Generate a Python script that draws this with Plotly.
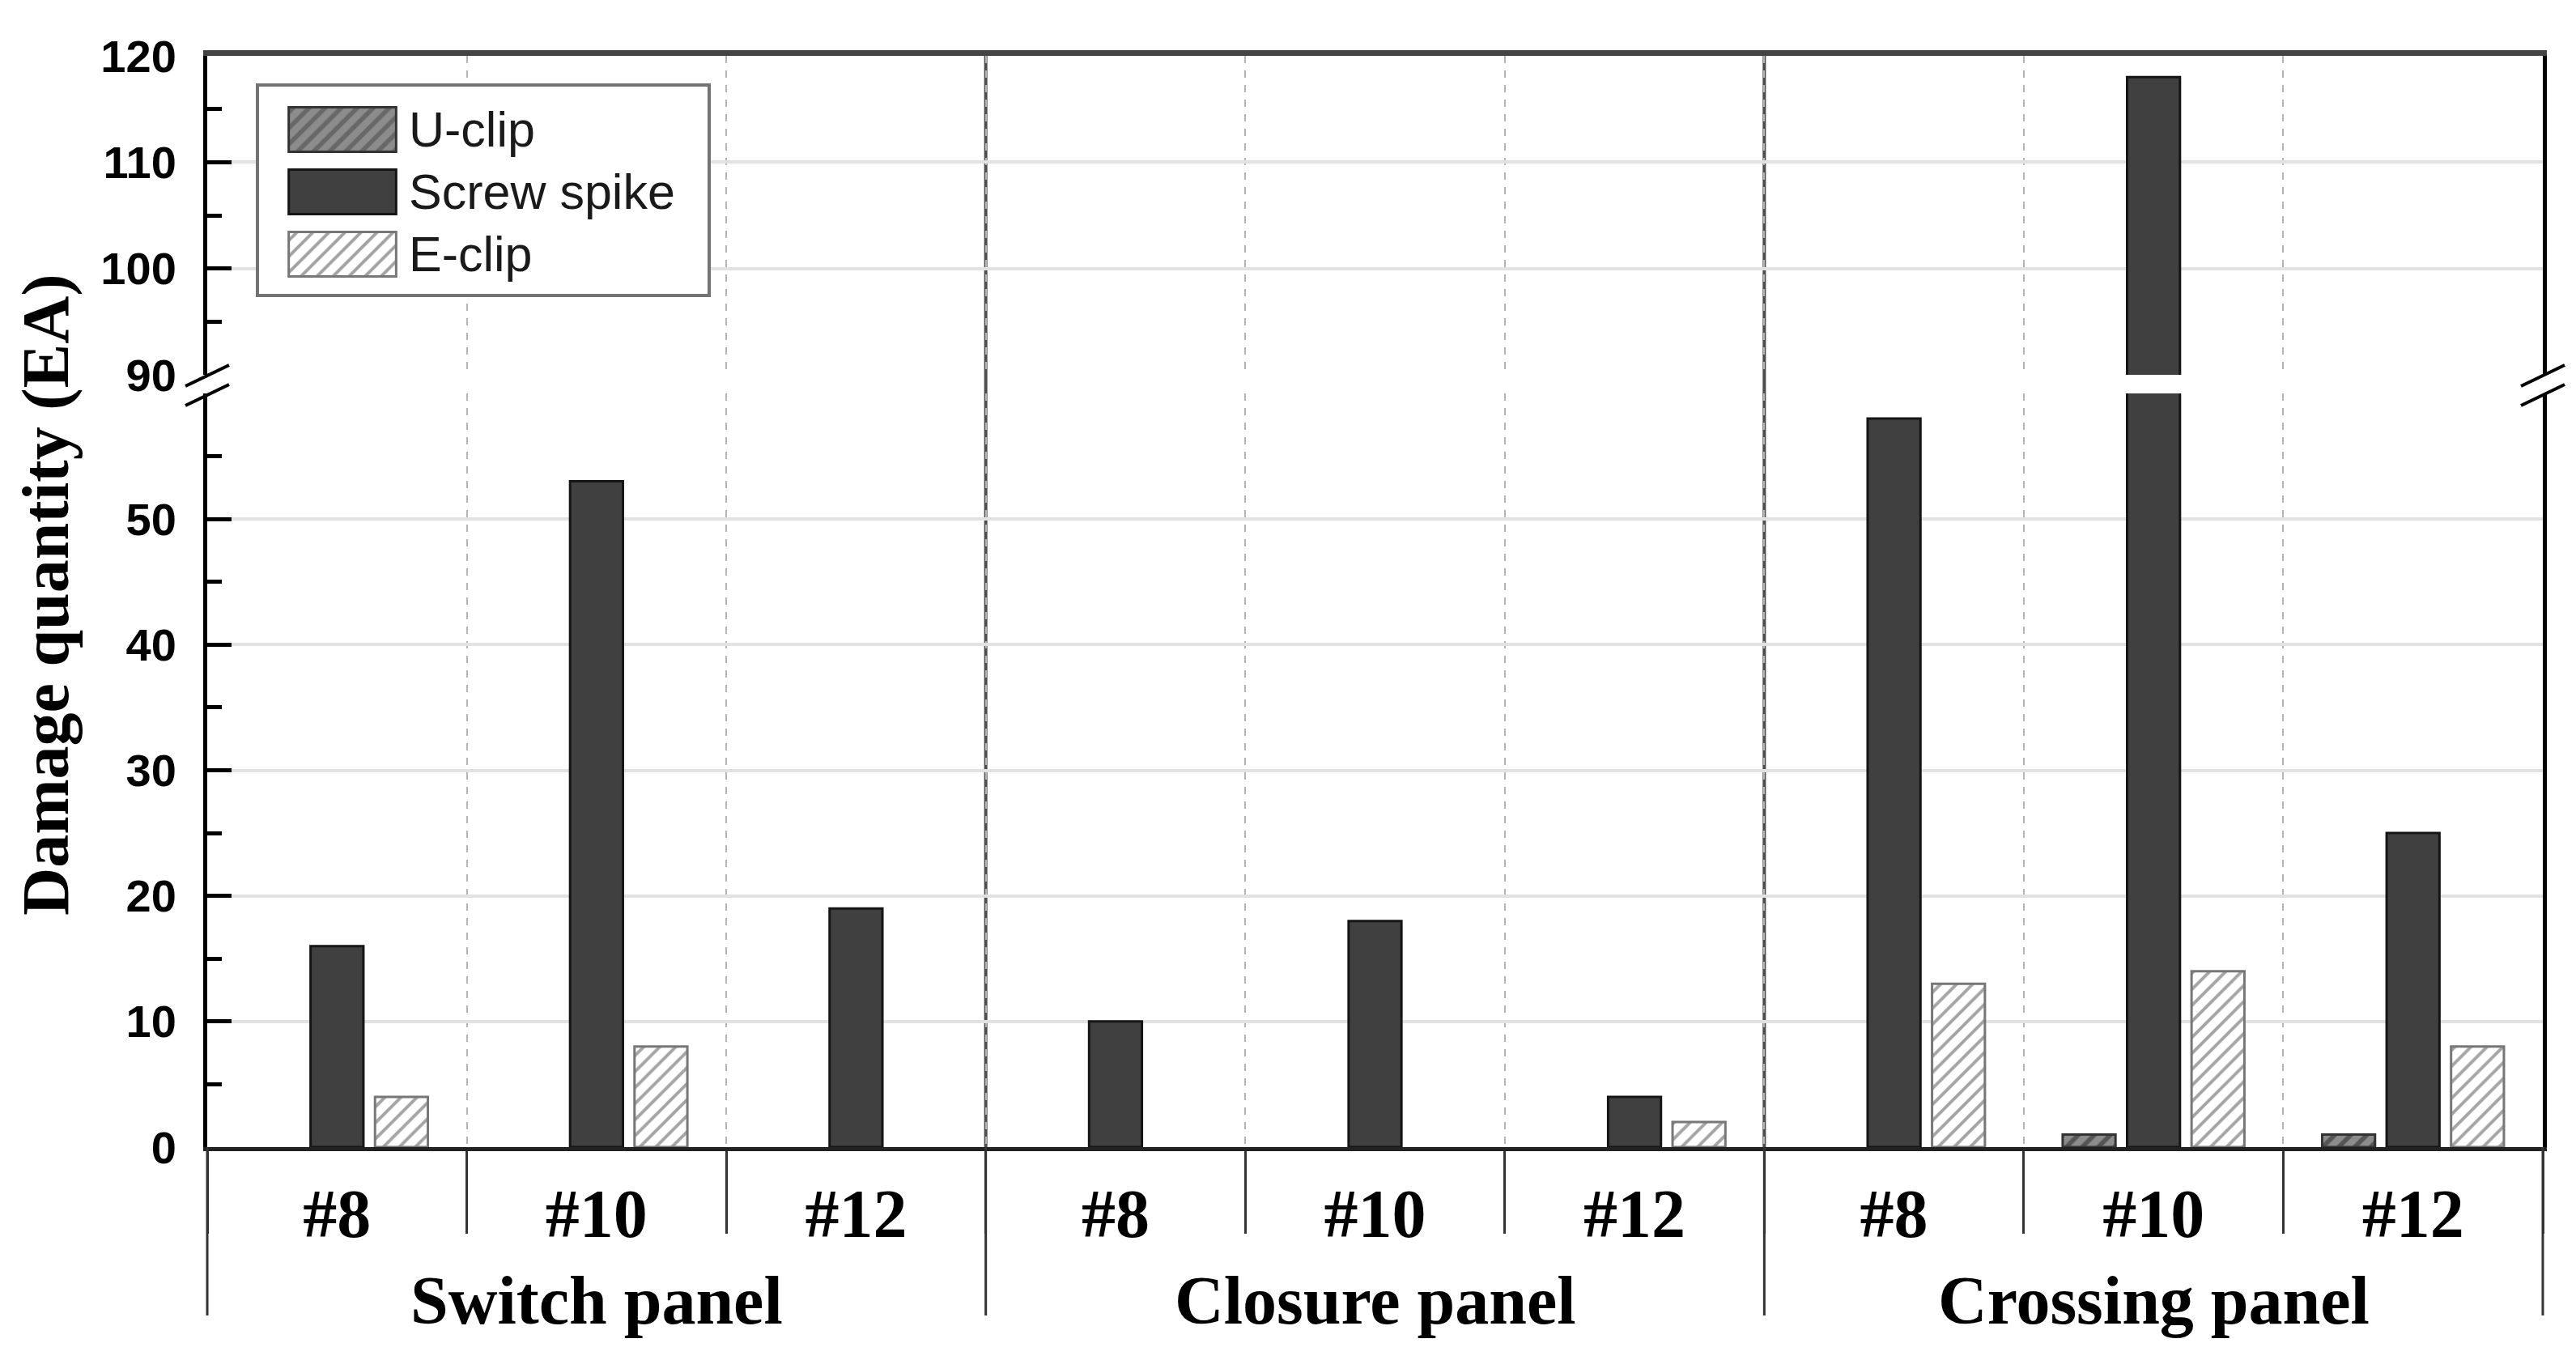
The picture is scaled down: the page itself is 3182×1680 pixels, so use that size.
import plotly.graph_objects as go

# ---------------- data ----------------
panels = ["Switch panel", "Closure panel", "Crossing panel"]
sizes = ["#8", "#10", "#12"]
series_names = ["U-clip", "Screw spike", "E-clip"]
u_clip = [0, 0, 0, 0, 0, 0, 0, 1, 1]
screw_spike = [16, 53, 19, 10, 18, 4, 58, 118, 25]
e_clip = [4, 8, 0, 0, 0, 2, 13, 14, 8]
low_ticks = [0, 10, 20, 30, 40, 50]
low_minor = [5, 15, 25, 35, 45, 55]
high_ticks = [90, 100, 110, 120]
high_minor = [95, 105, 115]
y_title = "Damage quantity (EA)"

categories = [f"{p} {s}" for p in panels for s in sizes]
tick_text = [s for p in panels for s in sizes]
series_values = [u_clip, screw_spike, e_clip]

# ---------------- geometry helpers (pixel -> paper) ----------------
W, H = 3182, 1680
L, R, T, B = 248, 3133, 61, 1409
BRK_TOP, BRK_BOT = 455, 478   # pixel rows of the axis break
LOW_MAX, HIGH_MIN, HIGH_MAX = 60, 90, 120


def px_x(px):
    return (px - L) / (R - L)


def px_y(py):
    return (B - py) / (B - T)


low_dom = [0, px_y(BRK_BOT)]
high_dom = [px_y(BRK_TOP), 1]

U_BG, U_FG = "#8c8c8c", "#1e1e1e"
S_FILL = "#404040"
E_BG, E_FG = "#ffffff", "#4a4a4a"

styles = [
    dict(color=U_BG, pattern=dict(shape="/", fgcolor=U_FG, bgcolor=U_BG,
                                  size=14, solidity=0.4),
         line=dict(color="#333333", width=3)),
    dict(color=S_FILL, line=dict(color="#151515", width=3)),
    dict(color=E_BG, pattern=dict(shape="/", fgcolor=E_FG, bgcolor=E_BG,
                                  size=14, solidity=0.28),
         line=dict(color="#777777", width=3)),
]

fig = go.Figure()
for xa, ya in [("x", "y"), ("x2", "y2")]:
    for name, vals, st in zip(series_names, series_values, styles):
        shown = [v if v else None for v in vals]   # no bar drawn for zero
        fig.add_trace(go.Bar(x=categories, y=shown, name=name, marker=st,
                             xaxis=xa, yaxis=ya, showlegend=False))

# custom legend swatches (inset axes)
fig.add_trace(go.Bar(
    y=series_names, x=[1, 1, 1], orientation="h", xaxis="x3", yaxis="y3",
    width=0.714, showlegend=False, hoverinfo="skip",
    marker=dict(
        color=[U_BG, S_FILL, E_BG],
        pattern=dict(shape=["/", "", "/"],
                     fgcolor=[U_FG, S_FILL, E_FG],
                     bgcolor=[U_BG, S_FILL, E_BG],
                     size=[14, 14, 14], solidity=[0.4, 0.3, 0.28]),
        line=dict(color=["#333333", "#151515", "#777777"], width=3),
    ),
))

serif = "Liberation Serif"
sans = "Liberation Sans"

xaxis_common = dict(
    type="category", categoryorder="array", categoryarray=categories,
    range=[-0.5, len(categories) - 0.5], tickson="boundaries",
    showgrid=True, gridcolor="#b4b4b4", gridwidth=2, griddash="dash",
    zeroline=False, automargin=False, fixedrange=True,
)

fig.update_layout(
    width=W, height=H,
    margin=dict(l=L, r=W - R, t=T, b=H - B, autoexpand=False),
    paper_bgcolor="white", plot_bgcolor="rgba(0,0,0,0)",
    barmode="group", bargap=0.255, bargroupgap=0.18,
    xaxis=dict(**xaxis_common, anchor="y", domain=[0, 1],
               tickvals=categories, ticktext=tick_text,
               tickfont=dict(family=serif, size=84, color="black", weight="bold"),
               ticks="outside", ticklen=102, tickwidth=3, tickcolor="#333333",
               ticklabelstandoff=5,
               showline=True, linecolor="#222222", linewidth=5),
    xaxis2=dict(**xaxis_common, anchor="y2", matches="x", domain=[0, 1],
                showticklabels=False, ticks="", side="top",
                showline=True, linecolor="#444444", linewidth=7),
    yaxis=dict(domain=low_dom, range=[0, LOW_MAX], tickvals=low_ticks,
               tickfont=dict(family=sans, size=56, color="black", weight="bold"),
               ticks="inside", ticklen=30, tickwidth=5, tickcolor="black",
               ticklabelstandoff=22,
               minor=dict(tickvals=low_minor, ticks="inside", ticklen=18,
                          tickwidth=5, tickcolor="black", showgrid=False),
               showgrid=True, gridcolor="#e2e2e2", gridwidth=4, zeroline=False,
               showline=True, linecolor="black", linewidth=5, mirror=True,
               anchor="x", automargin=False, fixedrange=True),
    yaxis2=dict(domain=high_dom, range=[HIGH_MIN, HIGH_MAX], tickvals=high_ticks,
                tickfont=dict(family=sans, size=56, color="black", weight="bold"),
                ticks="inside", ticklen=30, tickwidth=5, tickcolor="black",
                ticklabelstandoff=22,
                minor=dict(tickvals=high_minor, ticks="inside", ticklen=18,
                           tickwidth=5, tickcolor="black", showgrid=False),
                showgrid=True, gridcolor="#e2e2e2", gridwidth=4, zeroline=False,
                showline=True, linecolor="black", linewidth=5, mirror=True,
                anchor="x2", automargin=False, fixedrange=True),
    xaxis3=dict(domain=[px_x(346), px_x(484)], range=[-0.02, 1.02], visible=False,
                anchor="y3", fixedrange=True),
    yaxis3=dict(domain=[px_y(344.5), px_y(113.5)], type="category",
                categoryorder="array", categoryarray=series_names,
                range=[2.5, -0.5], side="right", anchor="x3",
                showgrid=False, zeroline=False, showline=False, ticks="",
                tickfont=dict(family=sans, size=61, color="#1a1a1a"),
                ticklabelstandoff=12, automargin=False, fixedrange=True),
)

# convert a pixel position to upper-subplot data coordinates (for legend box)
n = len(categories)
cat_px = (R - L) / n


def px_to_x2(px):
    return (px - L) / cat_px - 0.5


def px_to_y2(py):
    return HIGH_MAX - (py - T) * (HIGH_MAX - HIGH_MIN) / (BRK_TOP - T)


shapes = []
# legend box (between gridlines and traces of upper subplot)
shapes.append(dict(type="rect", xref="x2", yref="y2",
                   x0=px_to_x2(310), x1=px_to_x2(868),
                   y0=px_to_y2(357), y1=px_to_y2(97),
                   line=dict(color="#737373", width=4), fillcolor="white",
                   layer="between"))
# solid panel separators inside the plot, and long separators below axis
for k in range(0, n + 1, len(sizes)):
    xf = k / n
    if 0 < k < n:
        shapes.append(dict(type="line", xref="paper", yref="paper",
                           x0=xf, x1=xf, y0=0, y1=1,
                           line=dict(color="#4d4d4d", width=4), layer="below"))
    shapes.append(dict(type="line", xref="paper", yref="paper",
                       x0=xf, x1=xf, y0=0, y1=px_y(1617),
                       line=dict(color="#333333", width=3)))
# axis break marks
for ax_px in (L, R):
    for cy in (456, 480):
        shapes.append(dict(type="line", xref="paper", yref="paper",
                           x0=px_x(ax_px - 27), y0=px_y(cy + 13),
                           x1=px_x(ax_px + 27), y1=px_y(cy - 13),
                           line=dict(color="black", width=4)))
fig.update_layout(shapes=shapes)

annotations = [
    dict(text=y_title, xref="paper", yref="paper", x=px_x(48), y=px_y(727),
         textangle=-90, showarrow=False, xanchor="center", yanchor="middle",
         font=dict(family=serif, size=82, color="black", weight="bold")),
]
for i, p in enumerate(panels):
    annotations.append(dict(text=p, xref="x", yref="paper",
                            x=categories[i * len(sizes) + 1], y=px_y(1598),
                            showarrow=False, xanchor="center", yanchor="middle",
                            font=dict(family=serif, size=84, color="black",
                                      weight="bold")))
fig.update_layout(annotations=annotations)

fig.write_html("out.html")
